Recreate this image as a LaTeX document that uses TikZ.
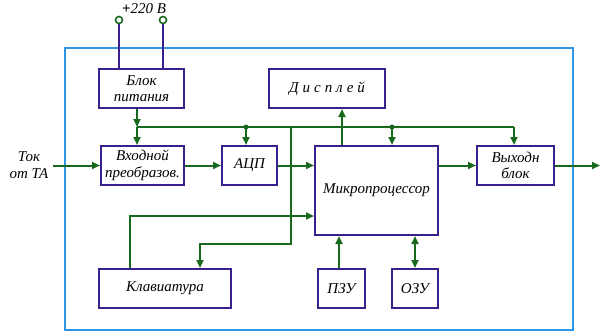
\documentclass[tikz,border=0pt]{standalone}
\usepackage{fontspec}
\setmainfont{Liberation Serif}
\usetikzlibrary{arrows.meta}
\definecolor{boxc}{RGB}{58,32,140}
\definecolor{gr}{RGB}{24,105,30}
\definecolor{bl}{RGB}{45,150,230}
\tikzset{
  blk/.style={draw=boxc, line width=2pt, fill=white, inner sep=1pt, align=center,
     font=\fontsize{15}{16.5}\selectfont\itshape},
  arr/.style={draw=gr, line width=2pt, -{Triangle[length=8pt,width=7pt]}},
  ln/.style={draw=gr, line width=2pt},
  term/.style={circle, draw=gr, line width=1.6pt, fill=white, minimum size=7pt, inner sep=0pt},
  dotn/.style={circle, fill=gr, minimum size=5pt, inner sep=0pt},
  lbl/.style={align=center, font=\fontsize{15}{17}\selectfont\itshape}
}
\begin{document}
\begin{tikzpicture}[x=1pt,y=-1pt]
\useasboundingbox (0,0) rectangle (610,335);
\draw[bl, line width=2pt] (65,48) rectangle (573,330);
% blocks
\node[blk, minimum width=85pt, minimum height=39pt] (pit) at (141.5,88.5) {Блок\\питания};
\node[blk, minimum width=116pt, minimum height=39pt] (disp) at (327,88.5) {Д\hspace{4pt}и\hspace{4pt}с\hspace{4pt}п\hspace{4pt}л\hspace{4pt}е\hspace{4pt}й};
\node[blk, minimum width=83pt, minimum height=39pt] (vx) at (142.5,165.5) {Входной\\преобразов.};
\node[blk, minimum width=55pt, minimum height=39pt] (acp) at (249.5,165.5) {АЦП};
\node[blk, minimum width=123pt, minimum height=89pt] (mp) at (376.5,190.5) {Микропроцессор};
\node[blk, minimum width=77pt, minimum height=39pt] (out) at (515.5,165.5) {Выходн\\блок};
\node[blk, minimum width=132pt, minimum height=39pt] (kl) at (165,288.5) {Клавиатура};
\node[blk, minimum width=47pt, minimum height=39pt] (pzu) at (341.5,288.5) {ПЗУ};
\node[blk, minimum width=46pt, minimum height=39pt] (ozu) at (415,288.5) {ОЗУ};
% terminals
\node[lbl] (pw) at (144,9) {\upshape\bfseries +\itshape\mdseries220 В};
\node[term] (t1) at (119,20) {};
\node[term] (t2) at (163,20) {};
\draw[boxc, line width=2pt] (t1) -- (t1 |- pit.north);
\draw[boxc, line width=2pt] (t2) -- (t2 |- pit.north);
% input
\node[lbl] (tok) at (29,165) {Ток\\от ТА};
\coordinate (in) at (53,165.5);
\draw[arr] (in) -- (vx.west);
% bus
\coordinate (b0) at (137,127);
\coordinate (b1) at (514,127);
\coordinate (j1) at (246,127);
\coordinate (j2) at (392,127);
\coordinate (j3) at (291,127);
\coordinate (c1) at (291,244);
\coordinate (c2) at (200,244);
\coordinate (k1) at (130,216);
\draw[arr] (pit.south -| b0) -- (b0);
\draw[arr] (b0) -- (vx.north -| b0);
\draw[ln] (b0) -- (b1);
\draw[arr] (b1) -- (out.north -| b1);
\draw[arr] (j1) -- (acp.north -| j1);
\draw[arr] (j2) -- (mp.north -| j2);
\node[dotn] at (j1) {};
\node[dotn] at (j2) {};
\draw[arr] (j3) -- (c1) -- (c2) -- (kl.north -| c2);
% signal flow
\draw[arr] (vx.east) -- (acp.west);
\draw[arr] (acp.east) -- (acp.east -| mp.west);
\draw[arr] (out.west -| mp.east) -- (out.west);
\coordinate (o) at (600,165.5);
\draw[arr] (out.east) -- (o);
\draw[arr] (mp.north -| 342,0) -- (disp.south -| 342,0);
\draw[arr] (kl.north -| k1) -- (k1) -- (k1 -| mp.west);
\draw[arr] (pzu.north -| 339,0) -- (mp.south -| 339,0);
\draw[draw=gr, line width=2pt, {Triangle[length=8pt,width=7pt]}-{Triangle[length=8pt,width=7pt]}] (ozu.north) -- (mp.south -| ozu.north);
\end{tikzpicture}
\end{document}
